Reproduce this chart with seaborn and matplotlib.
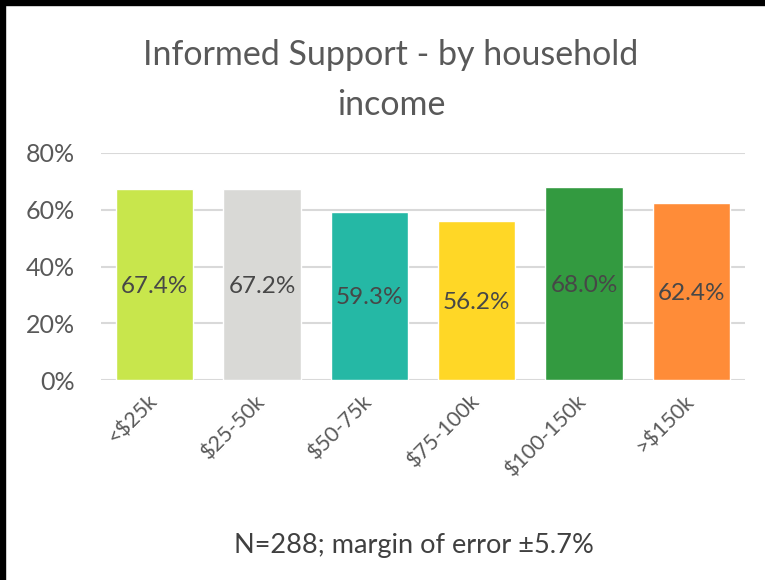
import pandas as pd
import matplotlib.pyplot as plt
import matplotlib.patches as mpatches
import matplotlib.transforms as mtransforms
import seaborn as sns
from matplotlib.ticker import PercentFormatter

categories = ['<$25k', '$25-50k', '$50-75k', '$75-100k', '$100-150k', '>$150k']
support = [67.4, 67.2, 59.3, 56.2, 68.0, 62.4]
bar_colors = ['#C8E64C', '#D9D9D6', '#25B8A5', '#FFD726', '#339A40', '#FF8C38']

df = pd.DataFrame({'income': categories, 'support': support})

sns.set_theme(style='white')
plt.rcParams['font.family'] = ['Lato', 'DejaVu Sans']

fig = plt.figure(figsize=(7.65, 5.8), dpi=100)
ax = fig.add_axes([101 / 765, 1 - 380 / 580, 644 / 765, 227 / 580])

sns.barplot(data=df, x='income', y='support', hue='income', palette=bar_colors,
            legend=False, width=0.72, saturation=1, ax=ax, zorder=3)

for i, v in enumerate(support):
    ax.text(i, v / 2, f'{v:.1f}%', ha='center', va='center_baseline', fontsize=17.5,
            color='#474747', zorder=4)

ax.set_ylim(0, 80)
ax.set_xlim(-0.5, 5.5)
ax.set_yticks([0, 20, 40, 60, 80])
ax.yaxis.set_major_formatter(PercentFormatter(decimals=0))
ax.grid(axis='y', color='#D9D9D9', linewidth=1.5, zorder=0)
for s in ['top', 'right', 'left', 'bottom']:
    ax.spines[s].set_visible(False)
ax.tick_params(axis='y', labelsize=18, labelcolor='#595959', length=0, pad=19)
ax.tick_params(axis='x', labelsize=15.5, labelcolor='#595959', length=0, pad=8)
shift = mtransforms.ScaledTranslation(-7 / 100, 0, fig.dpi_scale_trans)
for lbl in ax.get_xticklabels():
    lbl.set_rotation(45)
    lbl.set_ha('right')
    lbl.set_rotation_mode('anchor')
    lbl.set_transform(lbl.get_transform() + shift)
ax.set_xlabel('')
ax.set_ylabel('')

# va='baseline' pins the baseline of the last line
fig.text(391 / 765, 1 - 115 / 580, 'Informed Support - by household\nincome',
         ha='center', va='baseline', fontsize=24.5, color='#595959', linespacing=1.7)
fig.text(414 / 765, 1 - 553 / 580, 'N=288; margin of error \u00b15.7%',
         ha='center', va='baseline', fontsize=19.5, color='#404040')

# dark frame on the left and top edge of the screenshot
fig.patches.append(mpatches.Rectangle((0, 0), 5 / 765, 1, transform=fig.transFigure,
                                      color='black', zorder=10))
fig.patches.append(mpatches.Rectangle((0, 1 - 5 / 580), 1, 5 / 580, transform=fig.transFigure,
                                      color='black', zorder=10))

plt.savefig('out.png', dpi=100)
